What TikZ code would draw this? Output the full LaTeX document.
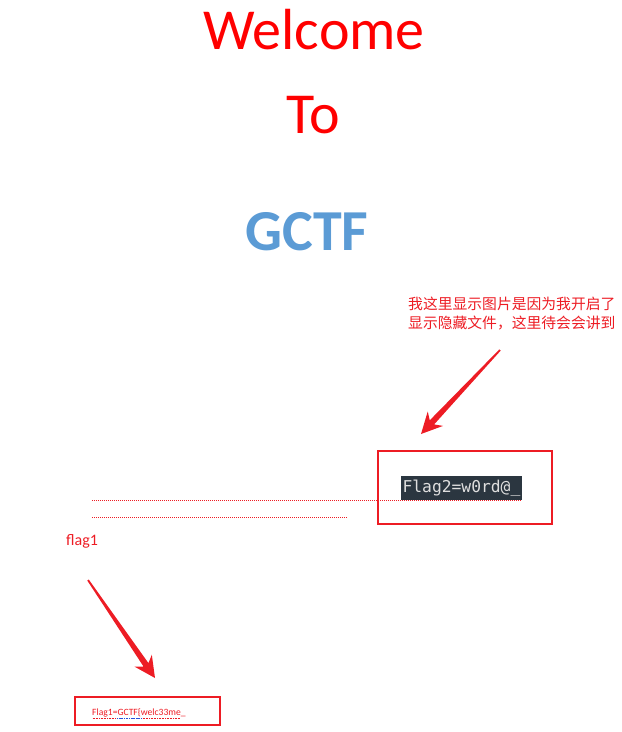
\documentclass[tikz,border=0pt]{standalone}
\usepackage{fontspec}
\setmainfont{Carlito}
\newfontfamily\cjkfont{Noto Sans CJK SC}
\newfontfamily\codefont{DejaVu Sans Mono}
\usetikzlibrary{calc}
\definecolor{titlered}{RGB}{255,0,0}
\definecolor{markred}{RGB}{237,28,36}
\definecolor{gctfblue}{RGB}{91,155,213}
\definecolor{codebg}{RGB}{43,54,64}
\definecolor{codefg}{RGB}{222,222,222}
\definecolor{linkblue}{RGB}{40,80,220}

% tapered red arrow from #1 to #2
\newcommand\callout[2]{%
  \coordinate (cb) at ($(#2)!21pt!(#1)$);
  \coordinate (cn) at ($(#2)!16pt!(#1)$);
  \fill[markred] ($(#1)!0.9pt!90:(#2)$) -- ($(cn)!3pt!90:(#2)$) -- ($(cb)!10.5pt!90:(#2)$) -- (#2)
    -- ($(cb)!10.5pt!-90:(#2)$) -- ($(cn)!3pt!-90:(#2)$) -- ($(#1)!0.9pt!-90:(#2)$) -- cycle;}

\begin{document}
\begin{tikzpicture}[x=1pt,y=-1pt,
    title/.style={anchor=base,inner sep=0pt,text=titlered,font=\fontsize{58}{60}\selectfont},
    note/.style={anchor=base west,inner sep=0pt,text=markred,font=\cjkfont\fontsize{14.8}{16}\selectfont},
    frame/.style={draw=markred,line width=2pt,inner sep=0pt},
    dotline/.style={draw=markred,line width=0.9pt,dash pattern=on 1pt off 1pt}]
    \useasboundingbox (0,0) rectangle (622,732);

    \node [title] (welcome) at (314,49) {Welcome};
    \node [title] (to) at (313,133) {To};
    \node [title,text=gctfblue,font=\fontsize{58}{60}\selectfont\bfseries] (gctf) at (307,250) {GCTF};

    \node [note] (note1) at (408,309.5) {我这里显示图片是因为我开启了};
    \node [note] (note2) at (408,328.5) {显示隐藏文件，这里待会会讲到};

    \node [frame,minimum width=173.5,minimum height=73] (frame2) at (465,487) {};
    \node [fill=codebg,text=codefg,font=\codefont\fontsize{16.3}{18}\selectfont,inner xsep=1pt,inner ysep=0pt,
        minimum width=121,minimum height=24] (flag2) at (461.5,488) {Flag2=w0rd@\_};

    \draw [dotline] (92,500.5) -- (521,500.5);
    \draw [dotline] (92,517.5) -- (348,517.5);

    \node [anchor=base west,inner sep=0pt,text=markred,font=\fontsize{16}{18}\selectfont] (flag1) at (66,545.5) {flag1};

    \node [frame,minimum width=144.5,minimum height=28] (frame1) at (147.3,710.7) {};
    \node [anchor=base west,inner sep=0pt,text=markred,font=\fontsize{9.6}{10}\selectfont] (flag1txt) at (92,715.5) {Flag1=GCTF\{welc33me\_};
    \draw [dotline,line width=0.6pt,dash pattern=on 0.7pt off 0.9pt] (92.5,718) -- (117,718) (141,718) -- (180,718);
    \draw [linkblue,line width=1pt,dash pattern=on 1.2pt off 0.5pt] (117,718.2) -- (141,718.2);

    \coordinate (tail2) at (500,350);
    \coordinate (tip2) at (421,434);
    \callout{tail2}{tip2}
    \coordinate (tail1) at (88,580);
    \coordinate (tip1) at (155,678);
    \callout{tail1}{tip1}
\end{tikzpicture}
\end{document}
